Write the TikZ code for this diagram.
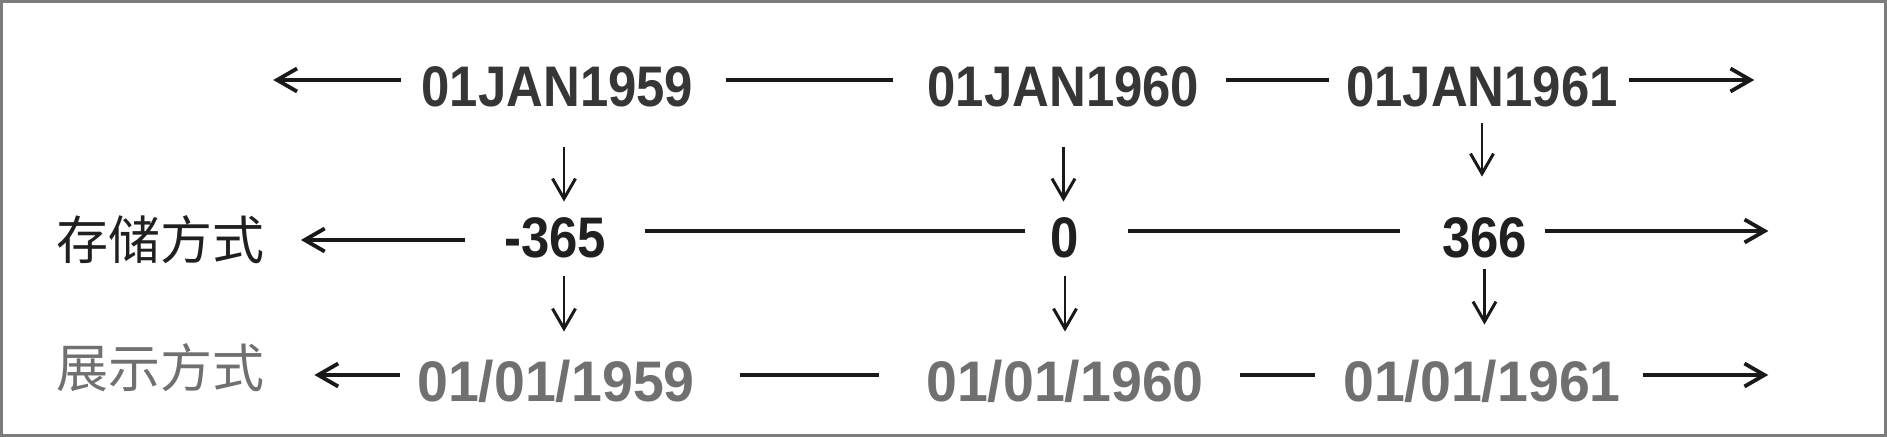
\documentclass[tikz,border=0pt]{standalone}
\usepackage{fontspec}
\setmainfont{Liberation Sans}
\newfontfamily\datefont[FakeStretch=0.89]{Liberation Sans}
\newfontfamily\showfont[FakeStretch=0.97]{Liberation Sans}
\newfontfamily\cjk{Noto Sans CJK SC}
\usetikzlibrary{positioning,arrows.meta}
\definecolor{framegray}{HTML}{7C7C7C}
\definecolor{inkdark}{HTML}{363636}
\definecolor{inkblack}{HTML}{202020}
\definecolor{inkgray}{HTML}{707070}

\begin{document}
\begin{tikzpicture}[x=0.5pt,y=-0.5pt,
  date/.style={inner sep=0pt, anchor=base, text height=27pt, text depth=0pt,
    font=\datefont\bfseries\fontsize{28.6pt}{30pt}\selectfont},
  showdate/.style={date, text=inkgray,
    font=\showfont\bfseries\fontsize{28.6pt}{30pt}\selectfont},
  cjklabel/.style={inner sep=0pt, font=\cjk\fontsize{26pt}{28pt}\selectfont},
  bar/.style={line width=1.8pt, black!90},
  arr/.style={bar, -{Straight Barb[length=10pt,width=11.5pt,line width=1.9pt]}},
  varr/.style={line width=1.1pt, black!90, -{Straight Barb[length=10pt,width=11.5pt,line width=1.5pt]}}]
% frame
\useasboundingbox (0,0) rectangle (1887,437);
\draw[framegray, line width=1.5pt] (1.5,1.5) rectangle (1885.5,435.5);

% date literals
\node[date, text=inkdark] (y59) at (557.5,107) {01JAN1959};
\node[date, text=inkdark] (y60) at (1063.5,107) {01JAN1960};
\node[date, text=inkdark] (y61) at (1482,107) {01JAN1961};

% stored values
\node[cjklabel, text=inkblack] (store) at (160.5,240) {存储方式};
\node[date, text=inkblack] (m365) at (555,258) {-365};
\node[date, text=inkblack] (zero) at (1065,258) {0};
\node[date, text=inkblack] (p366) at (1484.5,258) {366};

% displayed values
\node[cjklabel, text=inkgray] (show) at (160.5,368) {展示方式};
\node[showdate] (d59) at (556,402) {01/01/1959};
\node[showdate] (d60) at (1065,402) {01/01/1960};
\node[showdate] (d61) at (1482,402) {01/01/1961};

% free ends of the time lines
\coordinate[left=74pt of y59] (l1);
\coordinate[right=68pt of y61] (r1);
\coordinate[right=120.5pt of p366] (r2);
\coordinate[right=73.5pt of d61] (r3);

% first row
\draw[arr, shorten <=10pt] (y59) -- (l1);
\draw[bar, shorten <=16pt, shorten >=17pt] (y59) -- (y60);
\draw[bar, shorten <=13pt, shorten >=8.5pt] (y60) -- (y61);
\draw[arr, shorten <=5.5pt] (y61) -- (r1);

% second row
\draw[arr, shorten <=19.5pt, shorten >=18pt] (m365.west |- store) -- (store);
\draw[bar, shorten <=19.5pt, shorten >=12.5pt] (m365) -- (zero);
\draw[bar, shorten <=24pt, shorten >=21pt] (zero) -- (p366);
\draw[arr, shorten <=9pt] (p366) -- (r2);

% third row
\draw[arr, shorten <=8.5pt, shorten >=24.75pt] (d59) -- (show.east |- d59);
\draw[bar, shorten <=22.5pt, shorten >=23.5pt] (d59) -- (d60);
\draw[bar, shorten <=18pt, shorten >=14pt] (d60) -- (d61);
\draw[arr, shorten <=11pt] (d61) -- (r3);

% conversions
\draw[varr, shorten <=20pt, shorten >=1pt] ([xshift=3.25pt]y59.south) -- ([xshift=4.5pt]m365.north);
\draw[varr, shorten <=9pt, shorten >=8pt] ([xshift=4.5pt]m365.south) -- ([xshift=4pt]d59.north);
\draw[varr, shorten <=20pt, shorten >=1pt] (y60) -- (y60 |- zero.north);
\draw[varr, shorten <=9pt, shorten >=8pt] (zero) -- (zero |- d60.north);
\draw[varr, shorten <=8pt, shorten >=13.5pt] (y61) -- (y61 |- p366.north);
\draw[varr, shorten <=5.5pt, shorten >=11.5pt] (p366) -- (p366 |- d61.north);

\end{tikzpicture}
\end{document}
